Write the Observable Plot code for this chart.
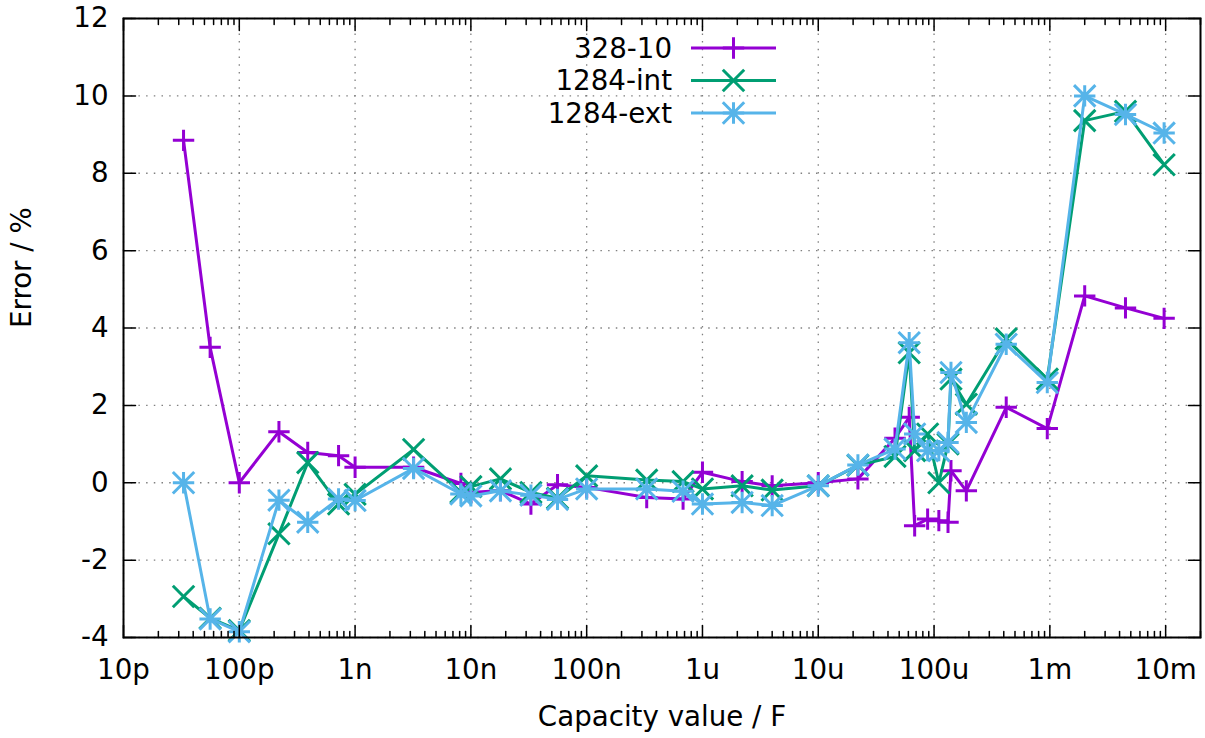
<!DOCTYPE html>
<html>
<head>
<meta charset="utf-8">
<script src="https://cdn.jsdelivr.net/npm/d3@7"></script>
<script src="https://cdn.jsdelivr.net/npm/@observablehq/plot@0.6"></script>
<style>
  html, body { margin: 0; padding: 0; background: #ffffff; }
  #chart { width: 1205px; height: 738px; }
</style>
</head>
<body>
<div id="chart"></div>
<script>
// ---- data ----
const seriesNames = ["328-10", "1284-int", "1284-ext"];
const seriesColors = ["#9400d3", "#009e73", "#56b4e9"];

const capacity = [33e-12, 56e-12, 100e-12, 220e-12, 390e-12, 720e-12, 1e-9, 3.2e-9, 8.2e-9, 10e-9,
  18e-9, 33e-9, 56e-9, 100e-9, 330e-9, 680e-9, 1e-6, 2.2e-6, 4e-6, 10e-6,
  22e-6, 46e-6, 61e-6, 68e-6, 88e-6, 110e-6, 132e-6, 140e-6, 190e-6, 420e-6,
  0.95e-3, 2e-3, 4.5e-3, 9.7e-3];

const err328 = [8.85, 3.5, 0.0, 1.32, 0.78, 0.70, 0.40, 0.40, -0.02, -0.25,
  -0.2, -0.55, -0.05, -0.12, -0.38, -0.42, 0.27, 0.03, -0.08, 0.0,
  0.1, 1.15, 1.69, -1.11, -0.94, -0.98, -1.02, 0.31, -0.21, 1.95,
  1.40, 4.83, 4.52, 4.25];

const errInt = [-2.94, -3.5, -3.82, -1.32, 0.52, -0.55, -0.3, 0.86, -0.25, -0.1,
  0.1, -0.25, -0.4, 0.18, 0.07, 0.03, -0.16, -0.08, -0.19, -0.08,
  0.45, 0.68, 3.36, 0.83, 1.26, 0.0, 1.0, 2.68, 2.03, 3.72,
  2.68, 9.36, 9.6, 8.22];

const errExt = [0.0, -3.52, -3.85, -0.45, -1.02, -0.42, -0.46, 0.37, -0.29, -0.34,
  -0.21, -0.32, -0.43, -0.16, -0.16, -0.22, -0.55, -0.51, -0.59, -0.08,
  0.46, 0.87, 3.62, 1.26, 0.83, 0.83, 1.04, 2.85, 1.56, 3.58,
  2.59, 10.0, 9.52, 9.04];

const xTickValues = [1e-11, 1e-10, 1e-9, 1e-8, 1e-7, 1e-6, 1e-5, 1e-4, 1e-3, 1e-2];
const xTickLabels = ["10p", "100p", "1n", "10n", "100n", "1u", "10u", "100u", "1m", "10m"];
const yTickValues = [-4, -2, 0, 2, 4, 6, 8, 10, 12];
const xLabel = "Capacity value / F";
const yLabel = "Error / %";

// ---- helpers ----
const FONT = "DejaVu Sans";
const FS = 27.7;
const MS = 10.7; // marker half-size

const symPlus = { draw(ctx, size) { const s = Math.sqrt(size / Math.PI);
  ctx.moveTo(-s, 0); ctx.lineTo(s, 0); ctx.moveTo(0, -s); ctx.lineTo(0, s); } };
const symTimes = { draw(ctx, size) { const s = Math.sqrt(size / Math.PI);
  ctx.moveTo(-s, -s); ctx.lineTo(s, s); ctx.moveTo(-s, s); ctx.lineTo(s, -s); } };
const symStar = { draw(ctx, size) { symPlus.draw(ctx, size); symTimes.draw(ctx, size); } };
const symbols = [symPlus, symTimes, symStar];

const tickShape = { draw(ctx, l) { ctx.moveTo(0, 0); ctx.lineTo(0, -l); } };

const xMinor = [];
for (let k = -11; k <= -3; k++) for (let m = 2; m <= 9; m++) xMinor.push(m * Math.pow(10, k));
xMinor.push(2e-2);

const labelMap = new Map(xTickValues.map((v, i) => [v, xTickLabels[i]]));

const series = [err328, errInt, errExt].map((vals, k) => ({
  name: seriesNames[k], color: seriesColors[k], symbol: symbols[k],
  rows: capacity.map((c, i) => ({ c, e: vals[i] }))
}));

const gridStyle = { stroke: "#808080", strokeOpacity: 1, strokeWidth: 1.3, strokeDasharray: "1.5,6.2" };
const tickStyle = { stroke: "black", strokeWidth: 1.5, anchor: "start", shape: tickShape };

const chart = Plot.plot({
  width: 1205,
  height: 738,
  marginLeft: 123,
  marginRight: 5,
  marginTop: 18,
  marginBottom: 101,
  style: { fontFamily: FONT, fontSize: FS + "px", background: "white", color: "black" },
  x: { type: "log", domain: [1e-11, 2e-2] },
  y: { domain: [-4, 12] },
  marks: [
    Plot.gridX(xTickValues, gridStyle),
    Plot.gridY(yTickValues, gridStyle),
    ...series.flatMap(s => [
      Plot.line(s.rows, { x: "c", y: "e", stroke: s.color, strokeWidth: 3 }),
      Plot.dot(s.rows, { x: "c", y: "e", r: MS, symbol: s.symbol, stroke: s.color, strokeWidth: 3, fill: "none" })
    ]),
    Plot.frame({ stroke: "black", strokeWidth: 2 }),
    // major / minor ticks, inward on all four sides
    Plot.vector(xTickValues, { x: d => d, frameAnchor: "bottom", rotate: 0, length: 12, ...tickStyle }),
    Plot.vector(xMinor, { x: d => d, frameAnchor: "bottom", rotate: 0, length: 6, ...tickStyle }),
    Plot.vector(xTickValues, { x: d => d, frameAnchor: "top", rotate: 180, length: 12, ...tickStyle }),
    Plot.vector(xMinor, { x: d => d, frameAnchor: "top", rotate: 180, length: 6, ...tickStyle }),
    Plot.vector(yTickValues, { y: d => d, frameAnchor: "left", rotate: 90, length: 12, ...tickStyle }),
    Plot.vector(yTickValues, { y: d => d, frameAnchor: "right", rotate: -90, length: 12, ...tickStyle }),
    Plot.axisX(xTickValues, { tickFormat: d => labelMap.get(d), tickSize: 0, tickPadding: 22, fontSize: FS, label: null, fill: "black" }),
    Plot.axisY(yTickValues, { tickFormat: d => String(d), tickSize: 0, tickPadding: 15, fontSize: FS, label: null, fill: "black" }),
    Plot.text([xLabel], { text: d => d, frameAnchor: "bottom", dy: 88, fontSize: FS, fill: "black" }),
    Plot.text([yLabel], { text: d => d, frameAnchor: "left", dx: -101, rotate: -90, fontSize: FS, fill: "black" })
  ]
});

document.getElementById("chart").appendChild(chart);

// ---- legend (inside the plot, top centre) ----
const svg = d3.select(chart);
const lg = svg.append("g").attr("font-family", FONT).attr("font-size", FS);
series.forEach((s, k) => {
  const yy = 48 + k * 32.5;
  lg.append("text").attr("x", 672).attr("y", yy).attr("dy", "0.35em")
    .attr("text-anchor", "end").attr("fill", "black").text(s.name);
  lg.append("line").attr("x1", 691).attr("x2", 776).attr("y1", yy).attr("y2", yy)
    .attr("stroke", s.color).attr("stroke-width", 3);
  lg.append("path").attr("transform", `translate(733.5,${yy})`)
    .attr("d", d3.symbol(s.symbol, Math.PI * MS * MS)())
    .attr("fill", "none").attr("stroke", s.color).attr("stroke-width", 3);
});
</script>
</body>
</html>
